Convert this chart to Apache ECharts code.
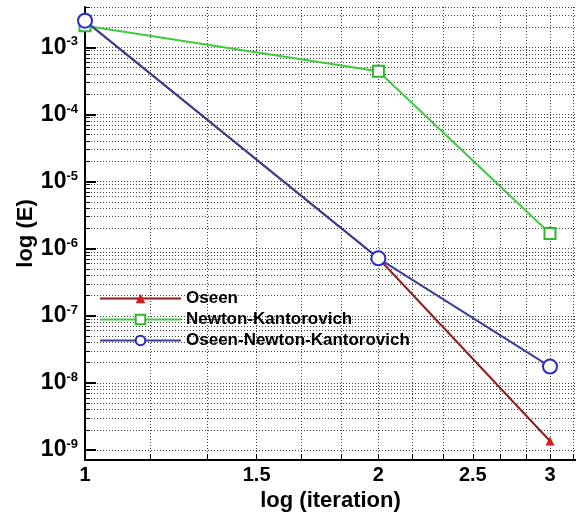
<!DOCTYPE html>
<html>
<head>
<meta charset="utf-8">
<script src="https://cdn.jsdelivr.net/npm/echarts@6/dist/echarts.min.js"></script>
<style>
  html, body { margin: 0; padding: 0; background: #fff; }
  #chart { width: 576px; height: 523px; }
</style>
</head>
<body>
<div id="chart"></div>
<script>
// Convergence of the error per iteration for three solvers (log-log).
const iterations = [1, 2, 3];
const oseen = [2.5e-3, 7.2e-7, 1.36e-9];
const newtonKantorovich = [2.1e-3, 4.4e-4, 1.68e-6];
const oseenNewtonKantorovich = [2.5e-3, 7.2e-7, 1.75e-8];

const seriesNames = ['Oseen', 'Newton-Kantorovich', 'Oseen-Newton-Kantorovich'];

// Tick positions of the iteration axis (steps of 1/6) and the labelled ones.
const xTicks = [1, 7 / 6, 4 / 3, 1.5, 5 / 3, 11 / 6, 2, 13 / 6, 7 / 3, 2.5, 8 / 3, 17 / 6, 3, 19 / 6];
const xLabels = [1, 1.5, 2, 2.5, 3];

// Decades of the error axis and the minor ticks between them.
const yMajor = [1e-9, 1e-8, 1e-7, 1e-6, 1e-5, 1e-4, 1e-3];
const yMinorFactors = [2, 3, 4, 5, 6, 7, 8, 9];
const yMinor = [];
yMajor.forEach(d => yMinorFactors.forEach(f => yMinor.push(+(d * f).toPrecision(3))));
const yAllTicks = yMajor.concat(yMinor).sort((a, b) => a - b);

const toPairs = ys => iterations.map((x, i) => [x, ys[i]]);

const FONT = 'Liberation Sans';
const gridLine = { show: true, lineStyle: { color: '#000', width: 1, type: [1, 2], opacity: 0.75 } };

const chart = echarts.init(document.getElementById('chart'), null, { renderer: 'canvas' });
chart.setOption({
  backgroundColor: '#fff',
  animation: false,
  grid: { left: 85, right: 0, top: 7, bottom: 63, containLabel: false },
  legend: {
    left: 94, top: 285, orient: 'vertical',
    itemWidth: 81, itemHeight: 12, itemGap: 4,
    textStyle: { fontFamily: FONT, fontWeight: 'bold', fontSize: 17, color: '#000' },
    data: seriesNames
  },
  xAxis: {
    type: 'log', logBase: 10, min: 1, max: 3.19,
    name: 'log (iteration)', nameLocation: 'middle', nameGap: 28,
    nameTextStyle: { fontFamily: FONT, fontWeight: 'bold', fontSize: 22, color: '#000' },
    axisLine: { show: true, onZero: false, lineStyle: { color: '#000', width: 2 } },
    axisTick: { show: true, inside: true, length: 6, customValues: xTicks, lineStyle: { color: '#000', width: 1 } },
    axisLabel: { customValues: xLabels, margin: 5, fontFamily: FONT, fontWeight: 'bold', fontSize: 20, color: '#000',
      formatter: v => String(+v.toFixed(2)) },
    splitLine: gridLine
  },
  yAxis: [{
    type: 'log', logBase: 10, min: 7.1e-10, max: 4e-3,
    name: 'log (E)', nameLocation: 'middle', nameGap: 48, nameRotate: 90, nameMoveOverlap: false,
    nameTextStyle: { fontFamily: FONT, fontWeight: 'bold', fontSize: 22, color: '#000' },
    axisLine: { show: true, onZero: false, lineStyle: { color: '#000', width: 2 } },
    axisTick: { show: true, inside: true, length: 5, customValues: yAllTicks, lineStyle: { color: '#000', width: 1 } },
    axisLabel: {
      customValues: yMajor, margin: 7,
      formatter: v => '{b|10}{s|' + Math.round(Math.log10(v)) + '}',
      rich: {
        b: { fontFamily: FONT, fontWeight: 'bold', fontSize: 23, color: '#000', lineHeight: 24 },
        s: { fontFamily: FONT, fontWeight: 'bold', fontSize: 13, color: '#000', lineHeight: 6, verticalAlign: 'top' }
      }
    },
    splitLine: gridLine
  }, {
    // longer ticks on the decades
    type: 'log', logBase: 10, min: 7.1e-10, max: 4e-3, position: 'left',
    axisLine: { show: false },
    axisTick: { show: true, inside: true, length: 11, customValues: yMajor, lineStyle: { color: '#000', width: 2 } },
    axisLabel: { show: false },
    splitLine: { show: false }
  }],
  series: [
    {
      name: seriesNames[0], type: 'line', data: toPairs(oseen),
      symbol: 'triangle', symbolSize: 9,
      lineStyle: { color: '#8e1d1d', width: 2 },
      itemStyle: { color: '#d41a1a' }
    },
    {
      name: seriesNames[1], type: 'line', data: toPairs(newtonKantorovich),
      symbol: 'emptyRect', symbolSize: 11,
      lineStyle: { color: '#3fca3f', width: 2 },
      itemStyle: { color: '#2fb52f', borderWidth: 2 }
    },
    {
      name: seriesNames[2], type: 'line', data: toPairs(oseenNewtonKantorovich),
      symbol: 'emptyCircle', symbolSize: 14,
      lineStyle: { color: '#3e3e98', width: 2 },
      itemStyle: { color: '#2a2acc', borderWidth: 1.5 }
    }
  ]
});
</script>
</body>
</html>
